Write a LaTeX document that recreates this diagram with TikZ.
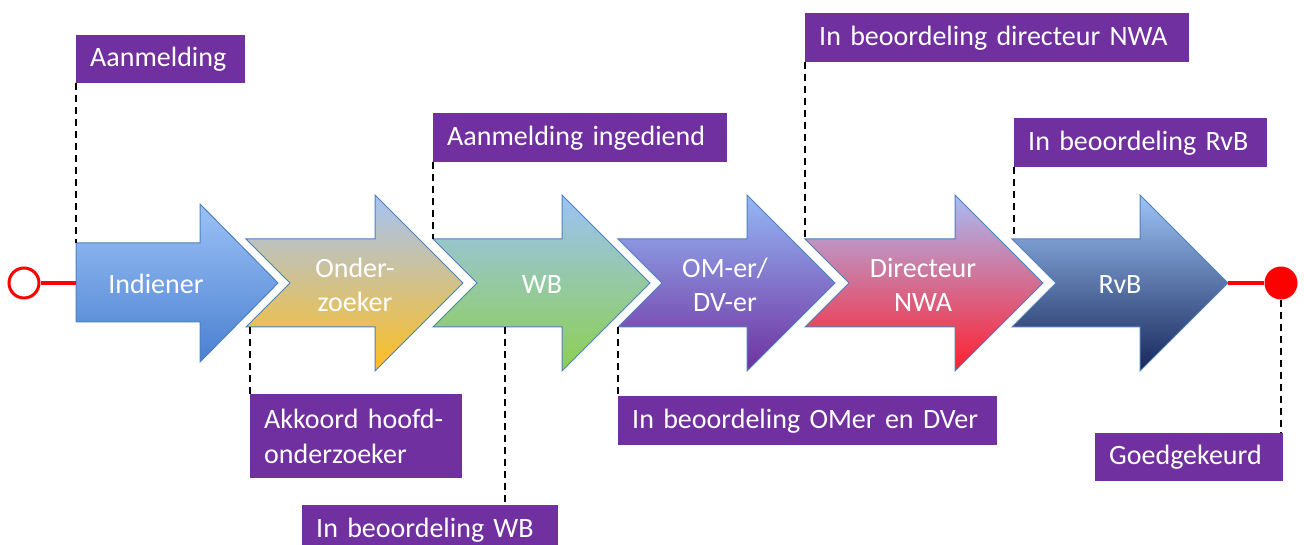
\documentclass[tikz,border=0pt]{standalone}
\usepackage{fontspec}
\setmainfont{Carlito}
\definecolor{lblpurple}{HTML}{7030A0}
\definecolor{arrline}{HTML}{4F81BD}
\definecolor{aOneTop}{HTML}{9CC2F6}
\definecolor{aOneBot}{HTML}{4A80D0}
\definecolor{aTwoTop}{HTML}{A5C3F6}
\definecolor{aTwoMid}{HTML}{DDBDB3}
\definecolor{aTwoBot}{HTML}{FFBF1F}
\definecolor{aThrTop}{HTML}{9CC2F6}
\definecolor{aThrBot}{HTML}{8DD04F}
\definecolor{aFouTop}{HTML}{94B8F5}
\definecolor{aFouBot}{HTML}{7030A0}
\definecolor{aFivTop}{HTML}{A8BCF5}
\definecolor{aFivMid}{HTML}{DD8AB0}
\definecolor{aFivBot}{HTML}{FF1F2F}
\definecolor{aSixTop}{HTML}{9DC3F6}
\definecolor{aSixBot}{HTML}{17275A}
\begin{document}
\begin{tikzpicture}[x=1pt,y=-1pt,
  lbl/.style={fill=lblpurple,text=white,inner xsep=14pt,inner ysep=0pt,anchor=north west,align=left,font=\fontsize{28}{35}\selectfont},
  arr/.style={draw=arrline,line width=1pt,line join=miter},
  atext/.style={text=white,font=\fontsize{28}{34}\selectfont,align=center},
  guide/.style={draw=black,line width=1.3pt,dash pattern=on 7pt off 5pt},
  redline/.style={draw=red,line width=3.5pt}]
\useasboundingbox (0,0) rectangle (1304,545);

% arrows
\shadedraw[arr,top color=aOneTop,bottom color=aOneBot]
  (76,243) coordinate (a1tl) -- (200,243) -- (200,204) -- (278,283) coordinate (a1tip)
  -- (200,362) -- (200,322) -- (76,322) -- (76,283) coordinate (a1in) -- cycle;
\shadedraw[arr,top color=aTwoTop,middle color=aTwoMid,bottom color=aTwoBot]
  (246,239) coordinate (a2tl) -- (375,239) -- (375,195) -- (463,283) coordinate (a2tip)
  -- (375,371) -- (375,327) -- (246,327) coordinate (a2bl) -- (290,283) -- cycle;
\shadedraw[arr,top color=aThrTop,bottom color=aThrBot]
  (433,239) coordinate (a3tl) -- (562,239) -- (562,195) -- (650,283) coordinate (a3tip)
  -- (562,371) -- (562,327) -- (505,327) coordinate (a3b) -- (433,327) -- (477,283) -- cycle;
\shadedraw[arr,top color=aFouTop,bottom color=aFouBot]
  (618,239) coordinate (a4tl) -- (747,239) -- (747,195) -- (835,283) coordinate (a4tip)
  -- (747,371) -- (747,327) -- (618,327) coordinate (a4bl) -- (662,283) -- cycle;
\shadedraw[arr,top color=aFivTop,middle color=aFivMid,bottom color=aFivBot]
  (805,239) coordinate (a5tl) -- (955,239) -- (955,195) -- (1043,283) coordinate (a5tip)
  -- (955,371) -- (955,327) -- (805,327) -- (849,283) -- cycle;
\shadedraw[arr,top color=aSixTop,bottom color=aSixBot]
  (1012,239) coordinate (a6tl) -- (1140,239) -- (1140,195) -- (1228,283) coordinate (a6tip)
  -- (1140,371) -- (1140,327) -- (1012,327) -- (1056,283) -- cycle;

% arrow texts
\node[atext] (t1) at (156,284) {Indiener};
\node[atext] (t2) at (355,285) {Onder-\\zoeker};
\node[atext] (t3) at (542,285) {WB};
\node[atext] (t4) at (725,285) {OM-er/\\DV-er};
\node[atext] (t5) at (923,285) {Directeur\\NWA};
\node[atext] (t6) at (1120,285) {RvB};

% start / end
\node[circle,draw=red,line width=3pt,fill=white,minimum size=30pt,inner sep=0pt] (scirc) at (24,283) {};
\node[circle,fill=red,minimum size=33pt,inner sep=0pt] (ecirc) at (1281,283) {};
\draw[redline] (scirc.east) -- (a1in);
\draw[redline] (a6tip) -- (ecirc.west);

% labels
\node[lbl,text width=141pt,minimum height=48pt] (aanm) at (76,35) {Aanmelding};
\node[lbl,text width=356pt,minimum height=49pt] (dir) at (805,13) {In beoordeling directeur NWA};
\node[lbl,text width=266pt,minimum height=49pt] (ingd) at (433,113) {Aanmelding ingediend};
\node[lbl,text width=225pt,minimum height=49pt] (rvb) at (1014,118) {In beoordeling RvB};
\node[lbl,text width=351pt,minimum height=49pt] (omer) at (618,396) {In beoordeling OMer en DVer};
\node[lbl,text width=228pt,minimum height=49pt] (wb) at (302,505) {In beoordeling WB};
\node[lbl,text width=184pt,minimum height=84pt] (akk) at (250,394) {Akkoord hoofd-\\onderzoeker};
\node[lbl,text width=160pt,minimum height=48pt] (goed) at (1095,433) {Goedgekeurd};

% dashed guides
\draw[guide] (aanm.south west) -- (aanm.south west |- a1tl);
\draw[guide] (ingd.south west) -- (a3tl);
\draw[guide] (dir.south west) -- (a5tl);
\draw[guide] (rvb.south west) -- (rvb.south west |- a6tl);
\draw[guide] (akk.north west |- a2bl) -- (akk.north west);
\draw[guide] (a3b) -- (a3b |- wb.north);
\draw[guide] (a4bl) -- (omer.north west);
\draw[guide] (ecirc.south) -- (ecirc.south |- goed.north);
\end{tikzpicture}
\end{document}
